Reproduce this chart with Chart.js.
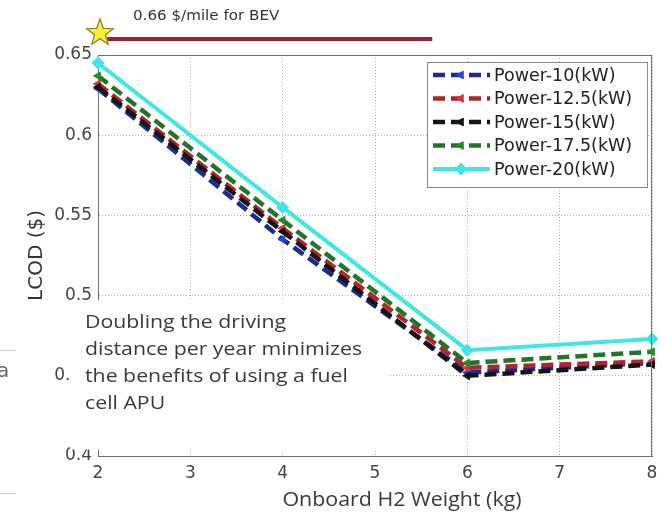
<!DOCTYPE html>
<html>
<head>
<meta charset="utf-8">
<script src="https://cdn.jsdelivr.net/npm/chart.js@4/dist/chart.umd.min.js"></script>
<style>
  html, body { margin: 0; padding: 0; background: #fff; overflow: hidden; }
  canvas { display: block; }
</style>
</head>
<body>
<canvas id="lcod" width="666" height="513"></canvas>
<script>
// Onboard hydrogen weight (kg) on the x axis
const weights = [2, 4, 6, 8];

// Levelized cost of driving ($/mile) for each fuel-cell power rating
const power10  = [0.629, 0.535, 0.452, 0.458];
const power125 = [0.632, 0.542, 0.455, 0.459];
const power15  = [0.630, 0.540, 0.450, 0.457];
const power175 = [0.637, 0.547, 0.458, 0.465];
const power20  = [0.645, 0.555, 0.466, 0.473];

const seriesNames = ['Power-10(kW)', 'Power-12.5(kW)', 'Power-15(kW)', 'Power-17.5(kW)', 'Power-20(kW)'];

// Battery electric vehicle reference cost
const bevCost = 0.66;
const bevSpan = [2.1, 5.62];
const bevLabel = '0.66 $/mile for BEV';

const xTicks = { min: 2, max: 8, step: 1 };
const yTicks = { min: 0.4, max: 0.65, step: 0.05 };

const xTitle = 'Onboard H2 Weight (kg)';
const yTitle = 'LCOD ($)';
const noteLines = ['Doubling the driving', 'distance per year minimizes', 'the benefits of using a fuel', 'cell APU'];

// ---- styling ----
const styles = [
  { line: '#1c2a96', mark: '#2447d6', dash: [12, 6], width: 4.5, point: 'triangle', rot: -90, r: 4.5 },
  { line: '#b0242c', mark: '#d8363a', dash: [12, 6], width: 4.5, point: 'triangle', rot: -90, r: 4.5 },
  { line: '#151313', mark: '#111111', dash: [12, 6], width: 4.5, point: 'triangle', rot: -90, r: 4.5 },
  { line: '#25722a', mark: '#1f8f24', dash: [12, 6], width: 4.5, point: 'triangle', rot: -90, r: 4.5 },
  { line: '#3ee6e6', mark: '#3ee6e6', dash: [],      width: 4,   point: 'rectRot',  rot: 0,   r: 6   }
];
const seriesValues = [power10, power125, power15, power175, power20];

// filled yellow star used as the BEV marker
function makeStar() {
  const c = document.createElement('canvas');
  c.width = 44; c.height = 44;
  const g = c.getContext('2d');
  const cx = 24, cy = 16;
  g.beginPath();
  for (let i = 0; i < 10; i++) {
    const r = i % 2 ? 5.8 : 14;
    const a = -Math.PI / 2 + i * Math.PI / 5;
    g.lineTo(cx + r * Math.cos(a), cy + r * Math.sin(a));
  }
  g.closePath();
  g.fillStyle = '#f6ee3c';
  g.fill();
  g.strokeStyle = '#8c7e22';
  g.lineWidth = 1.2;
  g.stroke();
  return c;
}

const datasets = seriesValues.map((vals, i) => ({
  type: 'line',
  label: seriesNames[i],
  data: weights.map((w, j) => ({ x: w, y: vals[j] })),
  borderColor: styles[i].line,
  backgroundColor: styles[i].mark,
  pointBackgroundColor: styles[i].mark,
  pointBorderColor: styles[i].mark,
  pointBorderWidth: 1,
  borderDash: styles[i].dash,
  borderWidth: styles[i].width,
  pointStyle: styles[i].point,
  pointRotation: styles[i].rot,
  pointRadius: styles[i].r,
  tension: 0,
  clip: 10,
  order: 10 - i
}));

datasets.push({
  type: 'line',
  label: 'BEV',
  data: bevSpan.map(x => ({ x, y: bevCost })),
  borderColor: '#9c2233',
  borderWidth: 4,
  pointRadius: 0,
  clip: false,
  order: 1
});
datasets.push({
  type: 'line',
  label: 'BEV point',
  data: [{ x: xTicks.min, y: bevCost }],
  showLine: false,
  pointStyle: makeStar(),
  pointRadius: 22,
  clip: false,
  order: 0
});

function drawMarker(ctx, st, x, y) {
  if (Chart.helpers && Chart.helpers.drawPoint) {
    ctx.fillStyle = st.mark;
    ctx.strokeStyle = st.mark;
    ctx.lineWidth = 1;
    ctx.setLineDash([]);
    Chart.helpers.drawPoint(ctx, { pointStyle: st.point, rotation: st.rot, radius: st.r, borderWidth: 1 }, x, y);
    return;
  }
  ctx.save();
  ctx.translate(x, y);
  ctx.fillStyle = st.mark;
  ctx.beginPath();
  if (st.point === 'triangle') {
    ctx.moveTo(-st.r, 0); ctx.lineTo(st.r * 0.6, -st.r * 0.9); ctx.lineTo(st.r * 0.6, st.r * 0.9);
  } else {
    ctx.moveTo(0, -st.r); ctx.lineTo(st.r, 0); ctx.lineTo(0, st.r); ctx.lineTo(-st.r, 0);
  }
  ctx.closePath();
  ctx.fill();
  ctx.restore();
}

function stretchedText(ctx, text, x, y, font, sx, color, align) {
  ctx.save();
  ctx.font = font;
  ctx.fillStyle = color;
  ctx.textBaseline = 'middle';
  ctx.textAlign = 'left';
  const w = ctx.measureText(text).width * sx;
  let left = x;
  if (align === 'center') left = x - w / 2;
  ctx.translate(left, y);
  ctx.scale(sx, 1);
  ctx.fillText(text, 0, 0);
  ctx.restore();
}

const decorations = {
  id: 'decorations',
  beforeDatasetsDraw(chart) {
    const { ctx, scales: { x, y } } = chart;
    // white panel holding the annotation
    ctx.save();
    ctx.fillStyle = '#ffffff';
    ctx.fillRect(70, y.getPixelForValue(0.497), 318, y.getPixelForValue(0.404) - y.getPixelForValue(0.497));
    ctx.restore();
    const top = y.getPixelForValue(0.483);
    noteLines.forEach((t, i) => {
      stretchedText(ctx, t, 85, top + i * 27, '19px "Open Sans"', 1.12, '#3a3a3a', 'left');
    });
  },
  afterDraw(chart) {
    const { ctx, chartArea: a, scales: { x, y } } = chart;
    // full axes box
    ctx.save();
    ctx.strokeStyle = '#707070';
    ctx.lineWidth = 1;
    ctx.setLineDash([]);
    ctx.beginPath();
    ctx.moveTo(a.left, a.top + 0.5); ctx.lineTo(a.right, a.top + 0.5);
    ctx.moveTo(a.right - 0.5, a.top); ctx.lineTo(a.right - 0.5, a.bottom);
    ctx.stroke();
    ctx.restore();

    // legend panel
    const lx = 427, ly = 62, lw = 221, lh = 126;
    ctx.save();
    ctx.fillStyle = '#ffffff';
    ctx.fillRect(lx, ly, lw, lh);
    ctx.strokeStyle = '#8a8a8a';
    ctx.lineWidth = 1;
    ctx.strokeRect(lx + 0.5, ly + 0.5, lw - 1, lh - 1);
    seriesNames.forEach((name, i) => {
      const st = styles[i];
      const yy = ly + 13 + i * 23.5;
      ctx.save();
      ctx.strokeStyle = st.line;
      ctx.lineWidth = st.width;
      ctx.setLineDash(st.dash);
      ctx.beginPath();
      ctx.moveTo(lx + 6, yy); ctx.lineTo(lx + 63, yy);
      ctx.stroke();
      drawMarker(ctx, st, lx + 34, yy);
      ctx.restore();
      ctx.fillStyle = '#222';
      ctx.font = '17.5px "DejaVu Sans"';
      ctx.textBaseline = 'middle';
      ctx.textAlign = 'left';
      ctx.fillText(name, lx + 67, yy + 1);
    });
    ctx.restore();

    // axis title below the x ticks
    stretchedText(ctx, xTitle, 402, 500, '20px "Open Sans"', 1.07, '#3a3a3a', 'center');

    // BEV label above the reference line
    stretchedText(ctx, bevLabel, x.getPixelForValue(xTicks.min) + 35, y.getPixelForValue(bevCost) - 23,
                  '14px "DejaVu Sans"', 1.08, '#333', 'left');

    // page fragments at the left edge
    ctx.save();
    ctx.fillStyle = '#666';
    ctx.font = '20px "DejaVu Sans"';
    ctx.textBaseline = 'middle';
    ctx.fillText('a', -3, 372);
    ctx.strokeStyle = '#cfcfcf';
    ctx.lineWidth = 1;
    ctx.beginPath();
    ctx.moveTo(0, 350.5); ctx.lineTo(16, 350.5);
    ctx.moveTo(0, 493.5); ctx.lineTo(16, 493.5);
    ctx.stroke();
    ctx.restore();
  }
};

new Chart(document.getElementById('lcod'), {
  type: 'line',
  data: { datasets },
  options: {
    responsive: false,
    devicePixelRatio: 1,
    animation: false,
    layout: { autoPadding: false, padding: { top: 55, right: 14, left: 0, bottom: 0 } },
    plugins: { legend: { display: false }, tooltip: { enabled: false } },
    scales: {
      x: {
        type: 'linear',
        min: xTicks.min, max: xTicks.max,
        ticks: { stepSize: xTicks.step, color: '#444', font: { family: 'DejaVu Sans', size: 17 }, padding: 7 },
        grid: { color: '#b0b0b0', drawTicks: false },
        border: { color: '#707070', dash: [1, 2] },
        afterFit(s) { s.height = 57; }
      },
      y: {
        type: 'linear',
        min: yTicks.min, max: yTicks.max,
        ticks: {
          stepSize: yTicks.step, color: '#444', font: { family: 'DejaVu Sans', size: 17 }, padding: 6,
          callback: v => String(+v.toFixed(2))
        },
        grid: { color: '#b0b0b0', drawTicks: false },
        border: { color: '#707070', dash: [1, 2] },
        title: { display: true, text: yTitle, color: '#333', font: { family: 'DejaVu Sans', size: 20 }, padding: { top: 25, bottom: 0 } },
        afterFit(s) { s.width = 98; }
      }
    }
  },
  plugins: [decorations]
});
</script>
</body>
</html>
